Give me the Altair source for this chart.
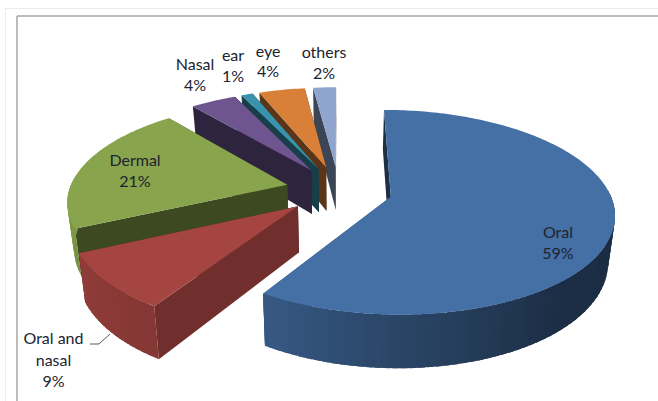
import numpy as np
import altair as alt

# Route-of-exposure shares, in pie order (clockwise from 12 o'clock)
NAMES = ["Oral", "Oral and nasal", "Dermal", "Nasal", "ear", "eye", "others"]
SHARES = [59, 9, 21, 4, 1, 4, 2]
TOP_COLORS = ["#4470A5", "#A54542", "#88A44C", "#6F5590", "#3A93AC", "#D87F38", "#90A5CE"]

# Slices are painted from the back of the pie to the front
PAINT_ORDER = ["others", "eye", "ear", "Nasal", "Dermal", "Oral", "Oral and nasal"]

# Camera for the tilted, exploded pie
CX, CY = 339.0, 190.0
RX, RY = 218.0, 98.0
PERSPECTIVE = 0.15
EXPLODE = 0.245
DEPTH = 45.0
BASE_SHRINK = 0.975


def project(x, y, lower=False):
    w = 1 + PERSPECTIVE * y
    sx = RX * x / w
    sy = CY - RY * y / w
    if lower:
        sx *= BASE_SHRINK
        sy += DEPTH / w
    return [float(CX + sx), float(sy)]


def rim(theta, offset, lower=False):
    t = np.radians(theta)
    return project(offset[0] + np.sin(t), offset[1] + np.cos(t), lower)


def rgb(hex_color):
    return np.array([int(hex_color[i:i + 2], 16) for i in (1, 3, 5)], dtype=float)


def shade(hex_color, factor):
    r, g, b = np.clip(rgb(hex_color) * factor, 0, 255).astype(int)
    return f"#{r:02x}{g:02x}{b:02x}"


def curved_shade(theta):
    return float(np.interp(theta, [100, 140, 180, 212, 245, 270, 360],
                           [0.40, 0.42, 0.62, 0.80, 0.88, 0.95, 0.95]))


def flat_shade(theta):
    return float(np.interp(theta, [0, 200, 212, 225, 360],
                           [0.42, 0.42, 0.69, 0.45, 0.42]))


def polygon(points, fill):
    ring = points + [points[0]]
    return {"type": "Feature",
            "geometry": {"type": "Polygon", "coordinates": [ring]},
            "properties": {"fill": fill}}


def slice_faces(start, end, color):
    mid = np.radians((start + end) / 2)
    off = (EXPLODE * np.sin(mid), EXPLODE * np.cos(mid))
    faces = []

    # Flat cut faces, the one turned away from the viewer first
    cuts = sorted([(np.cos(np.radians(start - 90)), start),
                   (np.cos(np.radians(end + 90)), end)], reverse=True)
    for _, theta in cuts:
        faces.append(polygon([project(*off), rim(theta, off),
                              rim(theta, off, True), project(*off, True)],
                             shade(color, flat_shade(theta))))

    # Curved outer wall in narrow strips; each one runs a little under the next
    # so that no seam shows between neighbours
    edges = np.arange(start, end + 2, 2.0)
    edges[-1] = end
    for a, b in zip(edges[:-1], edges[1:]):
        if np.cos(np.radians((a + b) / 2)) > 0.08:
            continue
        c = min(b + 1.5, end)
        faces.append(polygon([rim(a, off), rim(c, off), rim(c, off, True), rim(a, off, True)],
                             shade(color, curved_shade((a + b) / 2))))

    # Top face
    arc = [rim(t, off) for t in np.linspace(start, end, max(4, int(end - start) + 1))]
    faces.append(polygon([project(*off)] + arc, color))
    return faces


bounds = np.cumsum([0] + SHARES) * 3.6
spans = {n: (bounds[i], bounds[i + 1], TOP_COLORS[i]) for i, n in enumerate(NAMES)}
features = []
for name in PAINT_ORDER:
    features += slice_faces(*spans[name])

pie = (
    alt.Chart(alt.InlineData(values=features))
    .mark_geoshape(stroke=None)
    .encode(fill=alt.Fill("properties.fill:N", scale=None))
    .project(type="identity", scale=1, translate=[0, 0])
)

# Label text: category lines followed by the share
share_of = dict(zip(NAMES, SHARES))
LABEL_LAYOUT = {
    "Oral": (558, [233, 254], ["Oral"]),
    "Oral and nasal": (53.5, [339, 361, 382], ["Oral and", "nasal"]),
    "Dermal": (135, [161, 182], ["Dermal"]),
    "Nasal": (195, [65, 86], ["Nasal"]),
    "ear": (233, [56, 77], ["ear"]),
    "eye": (268, [52, 72], ["eye"]),
    "others": (324, [53, 74], ["others"]),
}
rows = []
for name, (px, ys, words) in LABEL_LAYOUT.items():
    for line, py in zip(words + [f"{share_of[name]}%"], ys):
        rows.append({"line": line, "px": px, "py": py})

labels = (
    alt.Chart(alt.Data(values=rows))
    .mark_text(font="Lato", fontSize=16, color="#1c2330", baseline="middle", align="center")
    .encode(x=alt.X("px:Q", scale=None), y=alt.Y("py:Q", scale=None), text="line:N")
)

# Leader from the small slice's wall to its label
leader_rows = [{"px": 90, "py": 344, "k": 0}, {"px": 99, "py": 344, "k": 1}, {"px": 110, "py": 334, "k": 2}]
leader = (
    alt.Chart(alt.Data(values=leader_rows))
    .mark_line(color="#5a5a5a", strokeWidth=1)
    .encode(x=alt.X("px:Q", scale=None), y=alt.Y("py:Q", scale=None), order="k:Q")
)


# Chart frame: pale outer edge and grey inner edge, open at right and bottom
def frame(x, x2, y, y2, color, width):
    return (
        alt.Chart(alt.Data(values=[{}]))
        .mark_rule(color=color, strokeWidth=width)
        .encode(x=alt.value(x), x2=alt.value(x2), y=alt.value(y), y2=alt.value(y2))
    )


frames = [
    frame(5, 658, 8.5, 8.5, "#ececec", 1),
    frame(5.5, 5.5, 8, 401, "#ececec", 1),
    frame(17, 658, 16, 16, "#a6a6a6", 1.5),
    frame(17, 17, 16, 401, "#a6a6a6", 1.5),
]

chart = alt.layer(*frames, pie, leader, labels).properties(
    width=658, height=401, padding=0, autosize=alt.AutoSizeParams(type="none"),
    background="#ffffff",
).configure_view(stroke=None)

chart.save("out.html", embed_options={"renderer": "svg", "actions": False})
